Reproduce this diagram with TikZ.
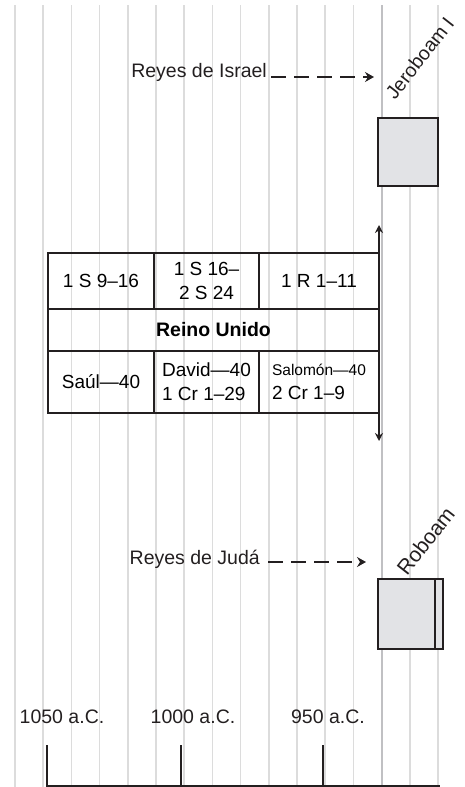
\documentclass[tikz,border=0pt]{standalone}
\usepackage{fontspec}
\setmainfont{Liberation Sans}
\usetikzlibrary{arrows.meta}
\definecolor{rejilla}{RGB}{220,220,220}
\definecolor{rejillaosc}{RGB}{192,192,195}
\definecolor{cajagris}{RGB}{226,227,230}
\definecolor{tinta}{RGB}{35,31,32}
\begin{document}
\begin{tikzpicture}[x=1pt,y=-1pt,
    linea/.style={line width=1.5pt,rejilla},
    celda/.style={draw=tinta,line width=2.6pt,inner sep=0pt,outer sep=0pt,
        font=\fontsize{19}{24}\selectfont,align=center},
    reinado/.style={draw=tinta,fill=cajagris,line width=2.8pt,inner sep=0pt,outer sep=0pt},
    flecha/.style={line width=2pt,tinta,-{Stealth[length=8pt,width=8pt]}},
    discont/.style={line width=2.8pt,tinta,dash pattern=on 15pt off 8pt,
        -{Stealth[length=9pt,width=10pt,inset=3pt]}},
    texto/.style={font=\fontsize{19.5}{24}\selectfont,text=tinta,inner sep=0pt}]
    \useasboundingbox (0,0) rectangle (465,787);
    % Rejilla de fondo
    \foreach \i in {0,...,15}
        \draw[linea] ({15+28.2*\i},5) -- ({15+28.2*\i},787);
    \draw[line width=1.8pt,rejillaosc] (381.6,5) -- (381.6,787);
    % Reino Unido
    \node[celda,minimum width=106pt,minimum height=56pt] (saulref) at (101,281) {1 S 9--16};
    \node[celda,minimum width=105pt,minimum height=56pt] (davidref) at (206.5,281) {1 S 16--\\2 S 24};
    \node[celda,minimum width=120pt,minimum height=56pt] (salomonref) at (319,281) {1 R 1--11};
    \node[celda,minimum width=331pt,minimum height=42pt,font=\fontsize{19.5}{24}\selectfont\bfseries] (reino) at (213.5,330) {Reino Unido};
    \node[celda,minimum width=106pt,minimum height=62pt] (saul) at (101,382) {Saúl---40};
    \node[celda,minimum width=105pt,minimum height=62pt,align=left] (david) at (206.5,382) {David---40\\1 Cr 1--29};
    \node[celda,minimum width=120pt,minimum height=62pt,align=left] (salomon) at (319,382) {{\fontsize{15.5}{24}\selectfont Salomón---40}\\2 Cr 1--9};
    \coordinate (arriba) at (379,225);
    \coordinate (abajo) at (379,441);
    \draw[flecha] (salomonref.north east) -- (arriba);
    \draw[flecha] (salomon.south east) -- (abajo);
    % Reyes de Israel
    \node[texto,anchor=base east] (israel) at (267,77) {Reyes de Israel};
    \coordinate (israelfin) at (374,77);
    \draw[discont,shorten <=4pt] (israel.base east) -- (israelfin);
    \node[reinado,minimum width=60pt,minimum height=68pt] (jeroboam) at (408,152) {};
    \node[texto,rotate=52,anchor=base west] (jeroboamtxt) at (395,101) {Jeroboam I};
    % Reyes de Juda
    \node[texto,anchor=base east] (juda) at (260,564) {Reyes de Judá};
    \coordinate (judafin) at (366,562);
    \draw[discont,shorten <=8pt] (juda.base east) ++(0,-2) -- (judafin);
    \node[reinado,minimum width=65pt,minimum height=70pt] (roboam) at (410.5,614) {};
    \draw[line width=2pt,tinta] (435,579) -- (435,649);
    \node[texto,rotate=52,anchor=base west,font=\fontsize{21}{24}\selectfont] (roboamtxt) at (407,577) {Roboam};
    % Linea del tiempo
    \draw[line width=1.4pt,tinta] (47,786) -- (440,786);
    \foreach \x/\anio/\cx in {47/1050/62,181/1000/193,323/950/328} {
        \draw[line width=2.4pt,tinta] (\x,745) -- (\x,787);
        \node[texto] (a\anio) at (\cx,717) {\anio\ a.C.};
    }
\end{tikzpicture}
\end{document}
